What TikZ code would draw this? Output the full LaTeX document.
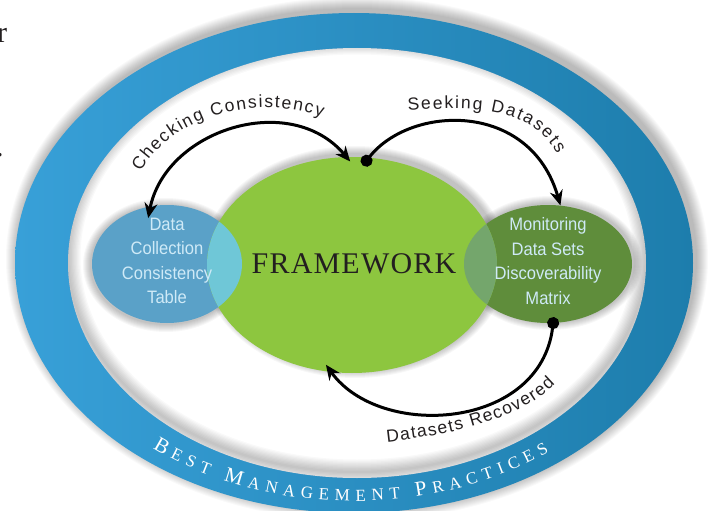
\documentclass[tikz,border=0pt]{standalone}
\usepackage{fontspec}
\setmainfont{Liberation Serif}
\newfontfamily\lsans{Liberation Sans}
\newfontfamily\csans[FakeStretch=0.92]{Liberation Sans}
\newfontfamily\fwserif[LetterSpace=4]{Liberation Serif}
\usetikzlibrary{arrows.meta,decorations.text,shapes.geometric}

\definecolor{ringL}{HTML}{38A0D8}
\definecolor{ringR}{HTML}{1D7DAC}
\definecolor{fwgreen}{HTML}{8DC63F}
\definecolor{dcblue}{HTML}{5AA1C8}
\definecolor{dcover}{HTML}{6FC7D7}
\definecolor{mdgreen}{HTML}{5F8D3B}
\definecolor{mdover}{HTML}{74A66C}
\definecolor{lbltext}{HTML}{CFEAF7}
\definecolor{ink}{HTML}{231F20}

\newcommand\lblfont{\lsans\fontsize{17.5}{17.5}\selectfont}
\newcommand\bmpbig{\fontsize{21}{21}\selectfont}
\newcommand\bmpsm{\fontsize{17}{17}\selectfont}

\tikzset{
  blob/.style={ellipse, inner sep=0pt, draw=none},
  boxtext/.style={align=center, text=lbltext, inner sep=0pt, font=\csans\fontsize{18}{24.5}\selectfont},
  conn/.style={line width=3pt, draw=black},
  twohead/.style={arrows={Stealth[length=15pt,width=13pt]}-{Stealth[length=15pt,width=13pt]}},
  dothead/.style={arrows={Circle[length=12pt]}-{Stealth[length=15pt,width=13pt]}},
  curvlbl/.style={decorate, decoration={text along path, text align=fit to path, text color=ink, text={|\lblfont|#1}}},
  fragtext/.style={anchor=base west, inner sep=0pt, text=ink, font=\fontsize{30}{30}\selectfont},
}

\begin{document}
\begin{tikzpicture}[x=1pt,y=-1pt]
\useasboundingbox (0,0) rectangle (716,511);
\fill[white] (0,0) rectangle (716,511);

% fragments of surrounding text
\node[fragtext] (frag1) at (-3,43) {r};
\node[fragtext] (frag2) at (-4,157) {.};

% outer soft shadow
\foreach \k in {1,...,12}
  \fill[black, opacity=0.022] (357,259) ellipse [x radius={339+\k}, y radius={250+\k}];

% blue ring
\shade[left color=ringL, right color=ringR] (354,263) ellipse [x radius=339, y radius=250];
\fill[white] (357,263) ellipse [x radius=289, y radius=215];
\begin{scope}
  \clip (357,263) ellipse [x radius=289, y radius=215];
  \foreach \k in {1,...,10}
    \draw[black, opacity=0.025, line width={2.5*\k}] (357,257) ellipse [x radius=289, y radius=215];
\end{scope}

% shadows of the ellipses
\foreach \k in {1,...,8} {
  \fill[black, opacity=0.03] (166,265) ellipse [x radius={75+\k}, y radius={59+\k}];
  \fill[black, opacity=0.03] (550,263) ellipse [x radius={84+\k}, y radius={59+\k}];
  \fill[black, opacity=0.03] (355,262) ellipse [x radius={145+\k}, y radius={108+\k}];
}

% ellipses
\node[blob, fill=dcblue, minimum width=150pt, minimum height=118pt] (dcct) at (167,264) {};
\node[blob, fill=mdgreen, minimum width=168pt, minimum height=118pt] (mdsdm) at (548,264) {};
\node[blob, fill=fwgreen, minimum width=290pt, minimum height=216pt] (fw) at (352,265) {};

% overlaps
\begin{scope}
  \clip (167,264) ellipse [x radius=75, y radius=59];
  \fill[dcover] (352,265) ellipse [x radius=145, y radius=108];
\end{scope}
\begin{scope}
  \clip (548,264) ellipse [x radius=84, y radius=59];
  \fill[mdover] (352,265) ellipse [x radius=145, y radius=108];
\end{scope}

% texts
\node[boxtext] (dccttext) at (167,261) {Data\\Collection\\Consistency\\Table};
\node[boxtext] (mdsdmtext) at (548,261) {Monitoring\\Data Sets\\Discoverability\\Matrix};
\node[anchor=base, inner sep=0pt, text=ink, font=\fwserif\fontsize{30}{30}\selectfont] (fwtext) at (354,273) {FRAMEWORK};

% connectors
\draw[conn, twohead, shorten <=-6pt, shorten >=-12pt]
  (fw.93) .. controls (290,90) and (165,130) .. (dcct.106);
\draw[conn, dothead, shorten <=-10pt]
  (fw.81) .. controls (410,105) and (530,100) .. (mdsdm.78);
\draw[conn, dothead, shorten <=-6pt, shorten >=-9pt]
  (mdsdm.275) .. controls (540,430) and (380,440) .. (fw.259);

% curved labels
\path[curvlbl={Checking Consistency}] (141,172) .. controls (168,120) and (250,92) .. (322,117);
\path[curvlbl={Seeking Datasets}] (408,111) .. controls (470,106) and (530,105) .. (557,154);
\path[curvlbl={Datasets Recovered}] (387,442) .. controls (450,435) and (520,420) .. (555,384);

\path[decorate, decoration={text along path, text color=white, text align=fit to path,
  text={|\bmpbig|B|\bmpsm|EST |\bmpbig|M|\bmpsm|ANAGEMENT |\bmpbig|P|\bmpsm|RACTICES}}]
  (354,263) ++(129:320 and 238) arc[start angle=129, end angle=52.5, x radius=320, y radius=238];
\end{tikzpicture}
\end{document}
